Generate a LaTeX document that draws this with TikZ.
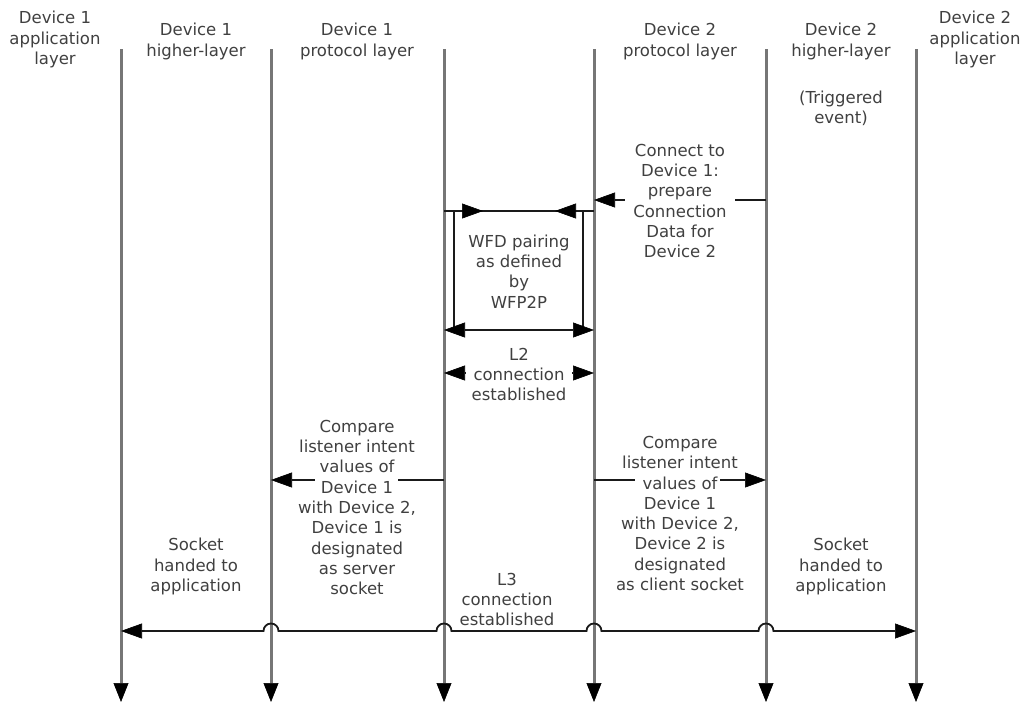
\documentclass[tikz,border=0pt]{standalone}
\usepackage{fontspec}
\setmainfont{DejaVu Sans}
\usetikzlibrary{arrows.meta}
\definecolor{lifegray}{HTML}{767676}
\definecolor{txtgray}{HTML}{404040}
\definecolor{msgcol}{HTML}{1A1A1A}
\begin{document}
\begin{tikzpicture}[x=1pt,y=-1pt,
  lifeline/.style={draw=lifegray,line width=3pt,-{Triangle[length=19pt,width=15pt,line width=0.6pt,color=black]}},
  msg/.style={draw=msgcol,line width=1.8pt,-{Triangle[length=21pt,width=15pt,line width=0.6pt,color=black]}},
  msgboth/.style={draw=msgcol,line width=1.8pt,{Triangle[length=21pt,width=15pt,line width=0.6pt,color=black]}-{Triangle[length=21pt,width=15pt,line width=0.6pt,color=black]}},
  plainmsg/.style={draw=msgcol,line width=1.8pt},
  innerline/.style={draw=msgcol,line width=1.5pt},
  lbl/.style={text=txtgray,align=center,inner sep=0pt,font=\fontsize{16.5}{20.3}\selectfont},
  gap/.style={fill=white}
]
\useasboundingbox (0,0) rectangle (1029,702);

% lifelines
\foreach \n/\x in {1/121,2/271,3/444,4/594,5/766,6/916}{
  \coordinate (t\n) at (\x,49);
  \coordinate (b\n) at (\x,702);
}
\foreach \n in {1,...,6}{ \draw[lifeline] (t\n) -- (b\n); }

% headers
\node[lbl] (h1) at (55,39.5) {Device 1\\application\\layer};
\node[lbl] (h2) at (196,41.5) {Device 1\\higher-layer};
\node[lbl] (h3) at (357,41.5) {Device 1\\protocol layer};
\node[lbl] (h4) at (680,41.5) {Device 2\\protocol layer};
\node[lbl] (h5) at (841,41.5) {Device 2\\higher-layer};
\node[lbl] (h6) at (975,39.5) {Device 2\\application\\layer};
\node[lbl] (trig) at (841,108) {(Triggered\\event)};

% connect to device 1
\coordinate (c5) at (766,200);
\coordinate (c4) at (594,200);
\draw[msg] (c5) -- (c4);
\fill[gap] (625,194) rectangle (735,206);
\node[lbl] (conn) at (680,201) {Connect to\\Device 1:\\prepare\\Connection\\Data for\\Device 2};

% WFD pairing block
\coordinate (w3) at (444,211);
\coordinate (w4) at (594,211);
\coordinate (wr) at (483,211);
\coordinate (wl) at (555,211);
\draw[plainmsg] (w3) -- (w4);
\draw[msg] (w3) -- (wr);
\draw[msg] (w4) -- (wl);
\coordinate (i3t) at (454,211);
\coordinate (i3b) at (454,330);
\coordinate (i4t) at (583,211);
\coordinate (i4b) at (583,330);
\draw[innerline] (i3t) -- (i3b);
\draw[innerline] (i4t) -- (i4b);
\coordinate (wb3) at (444,330);
\coordinate (wb4) at (594,330);
\draw[msgboth] (wb3) -- (wb4);
\node[lbl] (wfd) at (519,271.5) {WFD pairing\\as defined\\by\\WFP2P};

% L2
\coordinate (l23) at (444,373);
\coordinate (l24) at (594,373);
\draw[msgboth] (l23) -- (l24);
\fill[gap] (466,366) rectangle (572,380);
\node[lbl] (l2) at (519,374.5) {L2\\connection\\established};

% compare left
\coordinate (cl3) at (444,480);
\coordinate (cl2) at (271,480);
\draw[msg] (cl3) -- (cl2);
\fill[gap] (315,474) rectangle (398,486);
\node[lbl] (cmpl) at (357,507.5) {Compare\\listener intent\\values of\\Device 1\\with Device 2,\\Device 1 is\\designated\\as server\\socket};

% compare right
\coordinate (cr4) at (594,480);
\coordinate (cr5) at (766,480);
\draw[msg] (cr4) -- (cr5);
\fill[gap] (635,474) rectangle (720,486);
\node[lbl] (cmpr) at (680,513.5) {Compare\\listener intent\\values of\\Device 1\\with Device 2,\\Device 2 is\\designated\\as client socket};

% sockets
\node[lbl] (sockl) at (196,566.5) {Socket\\handed to\\application};
\node[lbl] (sockr) at (841,566.5) {Socket\\handed to\\application};

% L3 with hop-overs
\coordinate (l31) at (121,631);
\coordinate (l36) at (916,631);
\draw[msgboth] (l31) -- (263.5,631) arc[start angle=180,end angle=360,radius=7.5]
  -- (436.5,631) arc[start angle=180,end angle=360,radius=7.5]
  -- (586.5,631) arc[start angle=180,end angle=360,radius=7.5]
  -- (758.5,631) arc[start angle=180,end angle=360,radius=7.5]
  -- (l36);
\node[lbl] (l3) at (507,599.5) {L3\\connection\\established};
\end{tikzpicture}
\end{document}
